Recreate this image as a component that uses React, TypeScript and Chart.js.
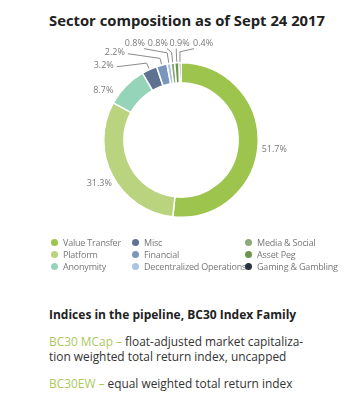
import React, { useEffect, useRef } from "react";
import { Chart, registerables } from "chart.js";

Chart.register(...registerables);

const categories = [
  "Value Transfer",
  "Platform",
  "Anonymity",
  "Misc",
  "Financial",
  "Decentralized Operations",
  "Media & Social",
  "Asset Peg",
  "Gaming & Gambling",
];
const shares = [51.7, 31.3, 8.7, 3.2, 2.2, 0.8, 0.8, 0.9, 0.4];
const sliceColors = [
  "#9dc44d",
  "#b9d37f",
  "#96d4b9",
  "#5e7291",
  "#7a96bc",
  "#aac5e0",
  "#8eaa7a",
  "#6c964e",
  "#2a3242",
];
const titleText = "Sector composition as of Sept 24 2017";
const headingText = "Indices in the pipeline, BC30 Index Family";

const FONT = "'Open Sans', sans-serif";

// label placement (relative to ring centre, in units of outer radius)
const LABEL_POS: [number, number][] = [
  [1.208, 0.117],
  [-1.058, 0.558],
  [-1.006, -0.64],
  [-1.0, -0.961],
  [-0.857, -1.13],
  [-0.597, -1.247],
  [-0.299, -1.247],
  [-0.019, -1.247],
  [0.286, -1.247],
];

const labelPlugin = {
  id: "sliceLabels",
  afterDatasetsDraw(chart: any) {
    const meta = chart.getDatasetMeta(0);
    const ctx = chart.ctx;
    ctx.save();
    ctx.font = `9px ${FONT}`;
    ctx.fillStyle = "#7a7a7a";
    ctx.strokeStyle = "#8a8a8a";
    ctx.lineWidth = 1;
    ctx.textAlign = "center";
    ctx.textBaseline = "middle";
    meta.data.forEach((arc: any, i: number) => {
      const p = arc.getProps(["x", "y", "startAngle", "endAngle", "outerRadius"], true);
      const R = p.outerRadius;
      const mid = (p.startAngle + p.endAngle) / 2;
      const dx = Math.cos(mid);
      const dy = Math.sin(mid);
      const text = shares[i].toFixed(1) + "%";
      const lx = p.x + LABEL_POS[i][0] * R;
      const ly = p.y + LABEL_POS[i][1] * R;
      const w = ctx.measureText(text).width;
      ctx.fillText(text, lx, ly);
      if (shares[i] < 5) {
        const px = p.x + dx * (R + 1);
        const py = p.y + dy * (R + 1);
        let ex, ey, sx, sy;
        if (i <= 4) {
          ex = p.x + dx * (R + 7);
          ey = p.y + dy * (R + 7);
          sx = lx + w / 2 + 3;
          sy = ly + 1;
        } else {
          ex = p.x + dx * (R + 11);
          ey = p.y + dy * (R + 11);
          sx = Math.min(Math.max(ex, lx - w / 2 + 1), lx + w / 2 - 1);
          sy = ly + 5;
        }
        ctx.beginPath();
        ctx.moveTo(sx, sy);
        ctx.lineTo(ex, ey);
        ctx.lineTo(px, py);
        ctx.stroke();
      }
    });
    ctx.restore();
  },
};

export default function App() {
  const ref = useRef<HTMLCanvasElement | null>(null);
  useEffect(() => {
    if (!ref.current) return;
    const chart = new Chart(ref.current, {
      type: "doughnut",
      data: {
        labels: categories,
        datasets: [
          {
            data: shares,
            backgroundColor: sliceColors,
            borderColor: "#ffffff",
            borderWidth: 1.5,
          },
        ],
      },
      options: {
        responsive: false,
        animation: false,
        cutout: "74%",
        layout: { padding: { left: 103, right: 95, top: 32, bottom: 32 } },
        plugins: {
          legend: { display: false },
          tooltip: { enabled: false },
          title: { display: false },
        },
      },
      plugins: [labelPlugin],
    });
    return () => chart.destroy();
  }, []);

  const colLeft = [51, 132, 245];
  return (
    <div
      style={{
        position: "absolute",
        left: 0,
        top: 0,
        width: 354,
        height: 411,
        background: "#ffffff",
        fontFamily: FONT,
        overflow: "hidden",
      }}
    >
      <div
        style={{
          position: "absolute",
          left: 0,
          width: 374,
          top: 10,
          textAlign: "center",
          fontWeight: 700,
          fontSize: 14.8,
          lineHeight: "20px",
          color: "#222",
          whiteSpace: "nowrap",
        }}
      >
        {titleText}
      </div>
      <canvas
        ref={ref}
        width={354}
        height={220}
        style={{ position: "absolute", left: 0, top: 30, width: 354, height: 220 }}
      />
      {categories.map((c, i) => {
        const col = Math.floor(i / 3);
        const row = i % 3;
        return (
          <div
            key={c}
            style={{
              position: "absolute",
              left: colLeft[col],
              top: 236 + row * 12,
              height: 12,
              display: "flex",
              alignItems: "center",
              fontSize: 9,
              letterSpacing: -0.2,
              color: "#777",
              whiteSpace: "nowrap",
            }}
          >
            <span
              style={{
                display: "inline-block",
                width: 7,
                height: 7,
                borderRadius: "50%",
                background: sliceColors[i],
                marginRight: 5,
              }}
            />
            {c}
          </div>
        );
      })}
      <div
        style={{
          position: "absolute",
          left: 49,
          top: 306,
          fontWeight: 700,
          fontSize: 12,
          lineHeight: "18px",
          color: "#222",
          whiteSpace: "nowrap",
        }}
      >
        {headingText}
      </div>
      <div
        style={{
          position: "absolute",
          left: 49,
          top: 334,
          fontSize: 11.9,
          lineHeight: "15px",
          color: "#333",
          whiteSpace: "nowrap",
        }}
      >
        <span style={{ color: "#a9c95c" }}>BC30 MCap –</span> float-adjusted market capitaliza-
        <br />
        tion weighted total return index, uncapped
      </div>
      <div
        style={{
          position: "absolute",
          left: 49,
          top: 376,
          fontSize: 11.9,
          lineHeight: "15px",
          color: "#333",
          whiteSpace: "nowrap",
        }}
      >
        <span style={{ color: "#a9c95c" }}>BC30EW –</span> equal weighted total return index
      </div>
    </div>
  );
}
